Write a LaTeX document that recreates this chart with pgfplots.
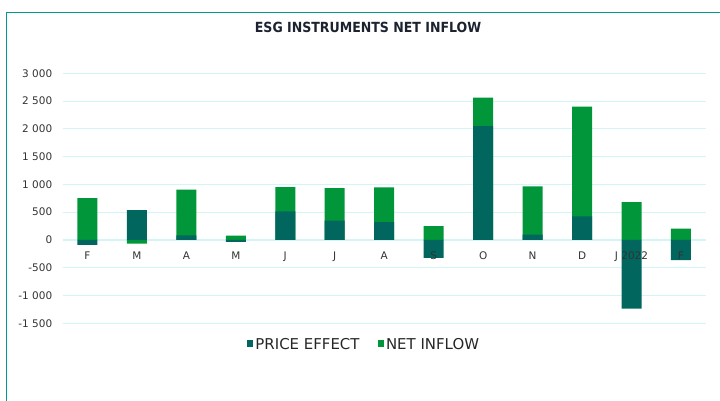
\documentclass[border=0pt]{standalone}
\usepackage{fontspec}
\setmainfont{DejaVu Sans}
\newfontfamily\condfont{DejaVu Sans Condensed}
\usepackage{pgfplots}
\usepackage{pgfplotstable}
\pgfplotsset{compat=1.18}

\definecolor{priceC}{HTML}{00665E}
\definecolor{netC}{HTML}{009639}
\definecolor{gridC}{HTML}{D2F5F5}
\definecolor{frameC}{HTML}{009B8D}
\definecolor{titleC}{HTML}{1C2230}

\tikzset{mlab/.style={font=\fontsize{10.5}{13}\selectfont, text=black!80, anchor=north, yshift=-8bp}}

% month index, price effect, top of the net inflow segment
\pgfplotstableread{
idx price net
0   -90   754
1   539   -66
2   84    904
3   -35   78
4   515   952
5   347   934
6   323   946
7   -323  251
8   2048  2563
9   96    964
10  425   2401
11  -1234 683
12  -365  204
}\flows

\begin{document}
\begin{tikzpicture}
\path[use as bounding box] (-62.7bp,-77.7bp) rectangle (657.3bp,323.3bp);
\draw[frameC, line width=1.2bp] (-56.4bp,-77.7bp) -- (-56.4bp,311bp) -- (657.3bp,311bp);
\node[font=\condfont\bfseries\fontsize{14}{16}\selectfont, text=titleC] at (305.3bp,296.3bp) {ESG INSTRUMENTS NET INFLOW};
\begin{axis}[
    scale only axis,
    width=643bp, height=250bp,
    xmin=-0.5, xmax=12.5,
    ymin=-1500, ymax=3000,
    ytick={-1500,-1000,...,3000},
    xtick=\empty,
    minor xtick={-0.5,0.5,...,12.5},
    axis x line*=middle,
    axis y line*=left,
    y axis line style={draw=none},
    x axis line style={gridC, line width=1bp},
    major tick length=0pt,
    minor tick length=5bp,
    minor x tick style={gridC, line width=0.8bp, yshift=-2.5bp},
    ymajorgrids,
    grid style={gridC, line width=0.8bp},
    tick label style={font=\fontsize{10.5}{13}\selectfont, text=black!80},
    yticklabel style={xshift=-7bp, /pgf/number format/.cd, 1000 sep={\ }, assume math mode=true},
    bar width=20bp,
    clip=false,
    legend columns=2,
    reverse legend,
    legend style={at={(0.4686,-0.087)}, anchor=center, draw=none, fill=none,
        font=\fontsize{15}{17}\selectfont, text=black!85,
        /tikz/every even column/.append style={column sep=16bp}},
    legend image code/.code={\fill[#1] (0bp,-1.5bp) rectangle (6.5bp,5bp);},
]
\addplot[ybar, bar shift=0pt, fill=netC, draw=none] table[x=idx, y=net] {\flows};
\addlegendentry{NET INFLOW}
\addplot[ybar, bar shift=0pt, fill=priceC, draw=none] table[x=idx, y=price] {\flows};
\addlegendentry{PRICE EFFECT}
% month names sit on the zero line, over the bars
\node[mlab] at (axis cs:0,0) {F};
\node[mlab] at (axis cs:1,0) {M};
\node[mlab] at (axis cs:2,0) {A};
\node[mlab] at (axis cs:3,0) {M};
\node[mlab] at (axis cs:4,0) {J};
\node[mlab] at (axis cs:5,0) {J};
\node[mlab] at (axis cs:6,0) {A};
\node[mlab] at (axis cs:7,0) {S};
\node[mlab] at (axis cs:8,0) {O};
\node[mlab] at (axis cs:9,0) {N};
\node[mlab] at (axis cs:10,0) {D};
\node[mlab] at (axis cs:11,0) {J 2022};
\node[mlab] at (axis cs:12,0) {F};
\end{axis}
\end{tikzpicture}
\end{document}
